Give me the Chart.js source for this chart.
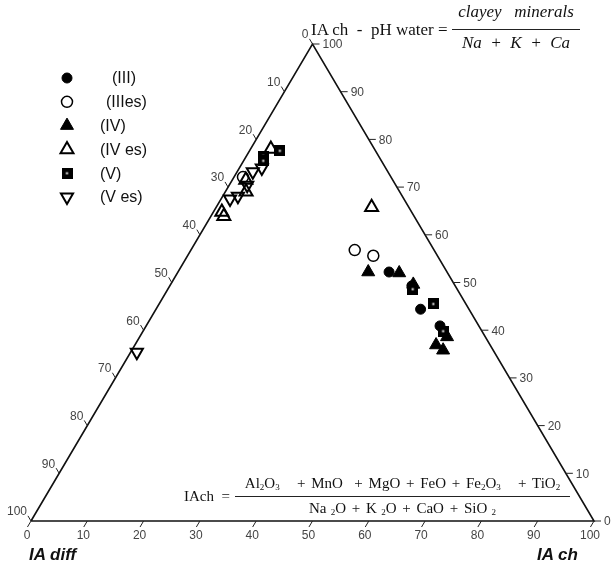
<!DOCTYPE html>
<html lang="en">
<head>
  <meta charset="UTF-8" />
  <title>Ternary IA diff / IA ch</title>
  <script src="https://cdn.jsdelivr.net/npm/chart.js"></script>
  <style>
    body {
      margin: 0;
      background: #fff;
    }
    #wrap {
      position: relative;
      width: 611px;
      height: 566px;
    }
    .tx {
      position: absolute;
      font-family: "Liberation Serif", "Times New Roman", serif;
      color: #111;
      white-space: pre;
      line-height: 1;
    }
    .frac {
      position: absolute;
      font-family: "Liberation Serif", "Times New Roman", serif;
      color: #111;
      text-align: center;
      line-height: 1;
    }
    .frac > div {
      white-space: pre;
    }
    .frac .num {
      border-bottom: 1px solid #222;
    }
    .frac sub {
      font-size: 60%;
      line-height: 0;
      vertical-align: -2px;
    }
    .corner {
      position: absolute;
      font-family: "Liberation Sans", Arial, sans-serif;
      font-weight: bold;
      font-style: italic;
      font-size: 17px;
      line-height: 1;
      color: #111;
    }
  </style>
</head>
<body>
  <div id="wrap">
    <canvas id="chart" width="611" height="566"></canvas>

    <div class="tx" style="left:311px; top:21px; font-size:17px;">IA ch  -  pH water =</div>
    <div class="frac" style="left:452px; top:3px; width:128px; font-size:17px; font-style:italic;"><div class="num" style="padding-bottom:9px;">clayey   minerals</div><div style="padding-top:4px;">Na  +  K  +  Ca</div></div>

    <div class="tx" style="left:184px; top:489px; font-size:15px;">IAch  =</div>
    <div class="frac" style="left:235px; top:476px; width:335px; font-size:15px; word-spacing:2px;"><div class="num" style="padding-bottom:5px;">Al<sub>2</sub>O<sub>3</sub>   + MnO  + MgO + FeO + Fe<sub>2</sub>O<sub>3</sub>   + TiO<sub>2</sub></div><div style="padding-top:4px;">Na<sub> 2</sub>O + K<sub> 2</sub>O + CaO + SiO<sub> 2</sub></div></div>

    <div class="corner" style="left:29px; top:546px;">IA diff</div>
    <div class="corner" style="left:537px; top:546px;">IA ch</div>
  </div>

  <script>
    // legend names of the sample groups
    const seriesLabels = ['(III)', '(IIIes)', '(IV)', '(IV es)', '(V)', '(V es)'];

    // IA ch (bottom axis) and IA ch - pH water (right axis) for each sample
    const chIII = [37.5, 43.0, 47.0, 52.2];
    const phIII = [52.2, 49.3, 44.4, 40.9];
    const chIIIes = [29.1, 33.0, 1.6];
    const phIIIes = [56.8, 55.6, 72.1];
    const chIV = [33.8, 39.4, 43.1, 54.6, 53.5, 55.3];
    const phIV = [52.2, 52.0, 49.6, 38.6, 36.9, 35.8];
    const chIVes = [27.6, 3.6, 2.4, 3.7, 1.5, 2.3];
    const phIVes = [65.8, 78.0, 71.5, 69.0, 64.8, 63.9];
    const chV = [5.4, 3.0, 3.5, 43.5, 48.7, 53.3];
    const phV = [77.6, 76.5, 75.5, 48.6, 45.5, 39.8];
    const chVes = [4.0, 2.8, 3.2, 2.7, 1.6, 1.1];
    const phVes = [74.0, 73.2, 70.4, 68.1, 67.5, 35.4];

    const axisTicks = [0, 10, 20, 30, 40, 50, 60, 70, 80, 90, 100];

    // ternary -> cartesian (x along the base, y = height in %)
    function toXY(ch, ph) {
      return ch.map((c, i) => ({ x: c + ph[i] / 2, y: ph[i] }));
    }

    // black square with a small white dot, for group (V)
    const squareDot = document.createElement('canvas');
    squareDot.width = 11;
    squareDot.height = 11;
    const sctx = squareDot.getContext('2d');
    sctx.fillStyle = '#000';
    sctx.fillRect(0, 0, 11, 11);
    sctx.fillStyle = '#fff';
    sctx.fillRect(4.5, 4.5, 2, 2);

    const styles = [
      { pointStyle: 'circle', radius: 5, rotation: 0, fill: '#000', borderWidth: 1 },
      { pointStyle: 'circle', radius: 5.5, rotation: 0, fill: 'rgba(0,0,0,0)', borderWidth: 1.5 },
      { pointStyle: 'triangle', radius: 7.5, rotation: 0, fill: '#000', borderWidth: 1 },
      { pointStyle: 'triangle', radius: 7.5, rotation: 0, fill: 'rgba(0,0,0,0)', borderWidth: 2 },
      { pointStyle: squareDot, radius: 6, rotation: 0, fill: '#000', borderWidth: 1 },
      { pointStyle: 'triangle', radius: 7, rotation: 180, fill: 'rgba(0,0,0,0)', borderWidth: 2 }
    ];

    const groups = [
      toXY(chIII, phIII),
      toXY(chIIIes, phIIIes),
      toXY(chIV, phIV),
      toXY(chIVes, phIVes),
      toXY(chV, phV),
      toXY(chVes, phVes)
    ];

    const drawOrder = [3, 4, 2, 5, 1, 6];

    const datasets = groups.map((pts, i) => ({
      label: seriesLabels[i],
      data: pts,
      pointStyle: styles[i].pointStyle,
      pointRadius: styles[i].radius,
      pointRotation: styles[i].rotation,
      pointBackgroundColor: styles[i].fill,
      pointBorderColor: '#000',
      pointBorderWidth: styles[i].borderWidth,
      pointHoverRadius: styles[i].radius,
      showLine: false,
      clip: false,
      order: drawOrder[i]
    }));

    // triangle frame
    datasets.push({
      label: 'frame',
      data: [{ x: 0, y: 0 }, { x: 100, y: 0 }, { x: 50, y: 100 }, { x: 0, y: 0 }],
      showLine: true,
      borderColor: '#111',
      borderWidth: 1.6,
      pointRadius: 0,
      clip: false,
      order: 20
    });

    const ternaryAxes = {
      id: 'ternaryAxes',
      afterDatasetsDraw(chart) {
        const { ctx, scales } = chart;
        const px = (ch, ph) => [scales.x.getPixelForValue(ch + ph / 2), scales.y.getPixelForValue(ph)];
        const bl = px(0, 0), br = px(100, 0), ap = px(0, 100);
        const unit = (a, b) => {
          const dx = b[0] - a[0], dy = b[1] - a[1], l = Math.hypot(dx, dy);
          return [dx / l, dy / l];
        };
        const leftDir = unit(ap, bl);   // apex -> bottom-left
        const rightDir = unit(br, ap);  // bottom-right -> apex

        ctx.save();
        ctx.strokeStyle = '#222';
        ctx.lineWidth = 1;
        ctx.fillStyle = '#444';
        ctx.font = '12px "Liberation Sans", Arial, sans-serif';

        axisTicks.forEach(v => {
          // bottom axis: IA ch
          let p = px(v, 0);
          ctx.beginPath();
          ctx.moveTo(p[0], p[1]);
          ctx.lineTo(p[0] + leftDir[0] * 7, p[1] + leftDir[1] * 7);
          ctx.stroke();
          ctx.textAlign = 'center';
          ctx.textBaseline = 'middle';
          ctx.fillText(String(v), p[0] - 4, p[1] + 15);

          // left axis: IA diff (0 at apex)
          p = px(0, 100 - v);
          ctx.beginPath();
          ctx.moveTo(p[0], p[1]);
          ctx.lineTo(p[0] + rightDir[0] * 6, p[1] + rightDir[1] * 6);
          ctx.stroke();
          ctx.textAlign = 'right';
          ctx.fillText(String(v), p[0] - 4, p[1] - 9);

          // right axis: IA ch - pH water
          p = px(100 - v, v);
          ctx.beginPath();
          ctx.moveTo(p[0], p[1]);
          ctx.lineTo(p[0] + 7, p[1]);
          ctx.stroke();
          ctx.textAlign = 'left';
          ctx.fillText(String(v), p[0] + 10, p[1] + 1);
        });

        // legend
        ctx.font = '16px "Liberation Sans", Arial, sans-serif';
        ctx.fillStyle = '#111';
        const textX = [112, 106, 100, 100, 100, 100];
        seriesLabels.forEach((name, i) => {
          const y = 78 + i * 23.8;
          const s = styles[i];
          ctx.save();
          ctx.fillStyle = s.fill;
          ctx.strokeStyle = '#000';
          ctx.lineWidth = s.borderWidth;
          Chart.helpers.drawPoint(ctx, {
            pointStyle: s.pointStyle,
            radius: s.radius,
            rotation: s.rotation,
            borderWidth: s.borderWidth
          }, 67, y);
          ctx.restore();
          ctx.textAlign = 'left';
          ctx.textBaseline = 'middle';
          ctx.fillText(name, textX[i], y + 1);
        });
        ctx.restore();
      }
    };

    new Chart(document.getElementById('chart'), {
      type: 'scatter',
      data: { datasets },
      options: {
        responsive: false,
        animation: false,
        layout: { padding: { left: 31, right: 17, top: 44, bottom: 45 } },
        scales: {
          x: { type: 'linear', min: 0, max: 100, display: false },
          y: { type: 'linear', min: 0, max: 100, display: false }
        },
        plugins: {
          legend: { display: false },
          tooltip: { enabled: false }
        }
      },
      plugins: [ternaryAxes]
    });
  </script>
</body>
</html>
